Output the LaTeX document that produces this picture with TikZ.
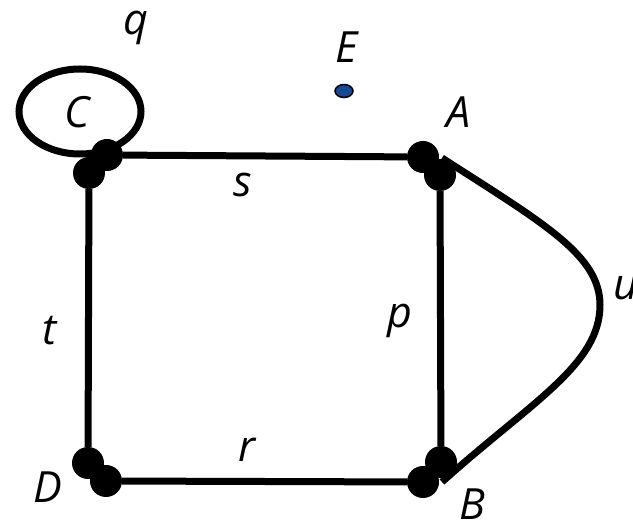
\documentclass[tikz,border=0pt]{standalone}
\usepackage{fontspec}
\setmainfont{Open Sans}
\usetikzlibrary{shapes.geometric}
\begin{document}
\begin{tikzpicture}[x=1pt, y=-1pt,
  vert/.style={circle, fill, inner sep=0pt, minimum size=32pt},
  edge/.style={line width=7pt},
  lab/.style={anchor=base, inner sep=0pt, font=\fontsize{43}{43}\selectfont\itshape}]
\useasboundingbox (0,0) rectangle (633,521);
\node[vert] (c1) at (107,155){};
\node[vert] (c2) at (89,173){};
\node[vert] (a1) at (423,157){};
\node[vert] (a2) at (440,175){};
\node[vert] (b1) at (441,462){};
\node[vert] (b2) at (423,482){};
\node[vert] (d1) at (88,463){};
\node[vert] (d2) at (106,481){};
\node[ellipse, draw, line width=1.5pt, fill={rgb,255:red,22;green,72;blue,152}, minimum width=18pt, minimum height=13pt, inner sep=0pt] (e) at (344,91){};
\coordinate (ua) at (442,158);
\coordinate (ub) at (442,482);
\draw[edge](c1) -- (a1);
\draw[edge](c2) -- (d1);
\draw[edge](a2) -- (b1);
\draw[edge](d2) -- (b2);
\draw[edge](ua) .. controls (543,223) and (600,255) .. (600,305) .. controls (600,365) and (531,402) .. (ub);
\draw[edge](80,111.5) ellipse (61 and 42.5);
\node[lab] (lq) at (136,35){q};
\node[lab] (lc) at (77,128){C};
\node[lab] (le) at (347,63){E};
\node[lab] (la) at (459,128){A};
\node[lab] (ls) at (243,197){s};
\node[lab] (lt) at (50,345){t};
\node[lab] (lp) at (400,328){p};
\node[lab] (lu) at (626,300){u};
\node[lab] (lr) at (247,462){r};
\node[lab] (ld) at (48,503){D};
\node[lab] (lb) at (472,520){B};
\end{tikzpicture}
\end{document}
